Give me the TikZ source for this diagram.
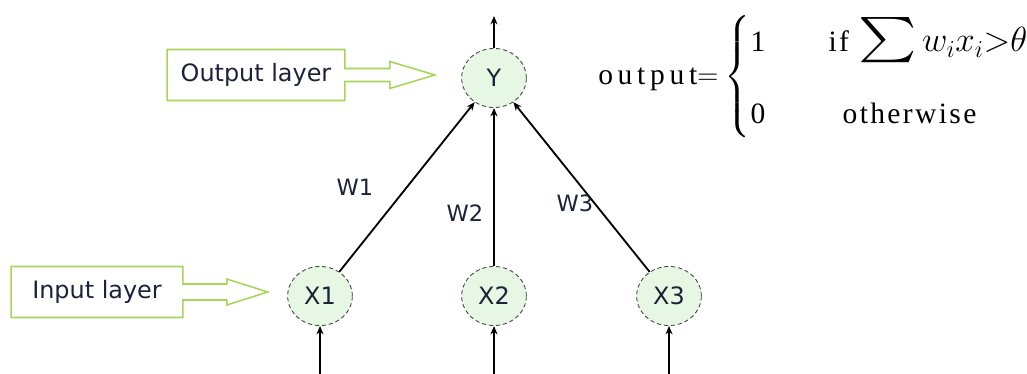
\documentclass[tikz,border=0pt]{standalone}
\usepackage{amsmath}
\usepackage{fontspec}
\setmainfont{Liberation Serif}
\setsansfont{DejaVu Sans}
\newfontfamily\formfont[LetterSpace=8]{Liberation Serif}
\newfontfamily\outfont[LetterSpace=16]{Liberation Serif}
\usetikzlibrary{arrows.meta,shapes.geometric}
\definecolor{calloutgreen}{HTML}{A8D45A}
\definecolor{neuronfill}{HTML}{E6F8E4}
\definecolor{labelink}{HTML}{1C2238}

\begin{document}
\begin{tikzpicture}[
  x=0.025cm,
  y=-0.025cm,
  every node/.style={font=\sffamily\fontsize{17}{19}\selectfont, text=labelink},
  neuron/.style={ellipse, draw=black!75, densely dashed, fill=neuronfill, line width=0.6pt, minimum width=46pt, minimum height=42pt, inner sep=0pt},
  layerbox/.style={rectangle, inner sep=0pt, minimum height=1.26cm},
  callout/.style={draw=calloutgreen, line width=1.1pt, line join=miter},
  syn/.style={-{Stealth[length=6pt, width=5pt]}, line width=1.3pt},
  wlabel/.style={font=\sffamily\fontsize{16}{18}\selectfont}
]
\useasboundingbox (0,0) rectangle (1027,374);

% neurons
\node[neuron] (y) at (494,78) {Y};
\node[neuron] (x1) at (320,296) {X1};
\node[neuron] (x2) at (494,296) {X2};
\node[neuron] (x3) at (669,296) {X3};

\coordinate (yout) at (494,16);
\coordinate (in1) at (320,374);
\coordinate (in2) at (494,374);
\coordinate (in3) at (669,374);

\draw[syn] (x1) -- (y);
\draw[syn] (x2) -- (y);
\draw[syn] (x3) -- (y);
\draw[syn] (y) -- (yout);
\draw[syn] (in1) -- (x1);
\draw[syn] (in2) -- (x2);
\draw[syn] (in3) -- (x3);

\node[wlabel] (w1) at (355,187) {W1};
\node[wlabel] (w2) at (465,213) {W2};
\node[wlabel] (w3) at (575,203) {W3};

% layer callouts
\node[layerbox, minimum width=4.425cm] (outbox) at (256,75) {Output layer};
\draw[callout] (outbox.east) ++(0,-6.5) -- ++(45,0) -- ++(0,-7) -- ++(45,13.5) -- ++(-45,13.5) -- ++(0,-7) -- ++(-45,0)
  -- (outbox.south east) -- (outbox.south west) -- (outbox.north west) -- (outbox.north east) -- cycle;

\node[layerbox, minimum width=4.275cm] (inbox) at (97,292) {Input layer};
\draw[callout] (inbox.east) ++(0,-8) -- ++(44,0) -- ++(0,-5) -- ++(41,13) -- ++(-41,13) -- ++(0,-5) -- ++(-44,0)
  -- (inbox.south east) -- (inbox.south west) -- (inbox.north west) -- (inbox.north east) -- cycle;

% threshold rule
\node[anchor=west, font=\fontsize{21}{25}\selectfont, text=black, inner sep=0pt] (rule) at (598,77)
  {$\text{\outfont output}{=}\hspace{1pt}\begin{cases}
    \text{\formfont 1}\hspace{24pt} & \text{\formfont if }\scalebox{1.9}[1.55]{$\sum$}\,\text{\fontsize{24}{28}\selectfont$w_i x_i{>}\theta$}\\[21pt]
    \text{\formfont 0}\hspace{24pt} & \hspace{10pt}\text{\formfont otherwise}
  \end{cases}$};
\end{tikzpicture}
\end{document}
